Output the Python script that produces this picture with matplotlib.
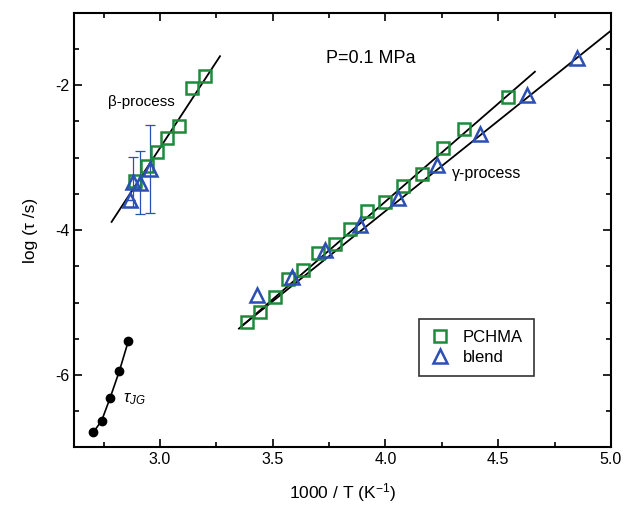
import numpy as np
import matplotlib
matplotlib.use('Agg')
from matplotlib import pyplot as plt
from matplotlib.ticker import MultipleLocator

plt.rcParams['font.family'] = ['Liberation Sans', 'DejaVu Sans']
plt.rcParams['mathtext.fontset'] = 'custom'
plt.rcParams['mathtext.rm'] = 'Liberation Sans'
plt.rcParams['mathtext.it'] = 'Liberation Sans:italic'
plt.rcParams['axes.unicode_minus'] = False

# beta process
beta_pchma_x = [3.199, 3.140, 3.085, 3.032, 2.985, 2.941, 2.889]
beta_pchma_y = [-1.88, -2.04, -2.56, -2.73, -2.92, -3.12, -3.32]
beta_blend_x = [2.867, 2.881, 2.911, 2.956]
beta_blend_y = [-3.585, -3.33, -3.345, -3.16]
beta_blend_err = [0.0, 0.345, 0.43, 0.61]
beta_fit_x = [2.785, 3.266]
beta_fit_y = [-3.887, -1.60]

# gamma process
gamma_pchma_x = [3.384, 3.443, 3.510, 3.569, 3.636, 3.702, 3.776, 3.843, 3.917,
                 4.000, 4.079, 4.163, 4.257, 4.348, 4.545]
gamma_pchma_y = [-5.27, -5.13, -4.92, -4.67, -4.55, -4.32, -4.19, -3.98, -3.74,
                 -3.61, -3.39, -3.23, -2.87, -2.61, -2.16]
gamma_blend_x = [3.429, 3.584, 3.732, 3.887, 4.057, 4.227, 4.419, 4.627, 4.848]
gamma_blend_y = [-4.90, -4.65, -4.28, -3.93, -3.56, -3.10, -2.67, -2.14, -1.63]
gamma_fit1_x = [3.35, 4.663]
gamma_fit1_y = [-5.36, -1.814]
gamma_fit2_x = [3.36, 5.0]
gamma_fit2_y = [-5.33, -1.248]

# tau JG
jg_x = [2.704, 2.741, 2.778, 2.819, 2.859]
jg_y = [-6.79, -6.63, -6.32, -5.95, -5.535]

green = '#1f8a3b'
blue = '#2b4fb3'

fig = plt.figure(figsize=(6.24, 5.11), dpi=100)
ax = fig.add_axes([0.1192, 0.1243, 0.8598, 0.8508])

ax.plot(beta_fit_x, beta_fit_y, color='black', lw=1.3, zorder=3)
ax.plot(gamma_fit1_x, gamma_fit1_y, color='black', lw=1.3, zorder=3)
ax.plot(gamma_fit2_x, gamma_fit2_y, color='black', lw=1.3, zorder=3)

ax.errorbar(beta_blend_x, beta_blend_y, yerr=beta_blend_err, fmt='none',
            ecolor=blue, elinewidth=0.9, capsize=3.5, capthick=0.9, zorder=2)

ax.plot(beta_pchma_x + gamma_pchma_x, beta_pchma_y + gamma_pchma_y, 's',
        ms=9, mfc='none', mec=green, mew=1.8, label='PCHMA', zorder=4)
ax.plot(beta_blend_x + gamma_blend_x, beta_blend_y + gamma_blend_y, '^',
        ms=10, mfc='none', mec=blue, mew=1.8, label='blend', zorder=4)

ax.plot(jg_x, jg_y, 'o-', color='black', ms=6, lw=1.2)

ax.text(2.918, -2.23, 'β-process', fontsize=11, ha='center', va='center')
ax.text(4.294, -3.22, 'γ-process', fontsize=11.5, ha='left', va='center')
ax.text(3.935, -1.63, 'P=0.1 MPa', fontsize=13, ha='center', va='center')
ax.text(2.835, -6.33, r'$\tau_{JG}$', fontsize=12, ha='left', va='center')

ax.set_xlim(2.62, 5.0)
ax.set_ylim(-7, -1)
ax.xaxis.set_major_locator(MultipleLocator(0.5))
ax.xaxis.set_minor_locator(MultipleLocator(0.25))
ax.yaxis.set_major_locator(MultipleLocator(2))
ax.yaxis.set_minor_locator(MultipleLocator(0.5))
ax.tick_params(which='both', direction='in', top=True, right=True,
               labeltop=False, labelright=False, labelsize=11.5, width=1.2)
ax.tick_params(which='major', length=6)
ax.tick_params(which='minor', length=3.5)
for s in ax.spines.values():
    s.set_linewidth(1.5)

ax.set_xlabel('1000 / T (K$^{\\mathregular{-1}}$)', fontsize=12.5, labelpad=10)
ax.set_ylabel('log (τ /s)', fontsize=12.5, labelpad=12)

leg = ax.legend(loc='lower right', bbox_to_anchor=(0.872, 0.146), fontsize=12,
                frameon=True, fancybox=False, edgecolor='black',
                handlelength=1.2, handletextpad=0.8, borderpad=0.65,
                labelspacing=0.3)
leg.get_frame().set_linewidth(1.2)

fig.savefig('out.png', dpi=100)
